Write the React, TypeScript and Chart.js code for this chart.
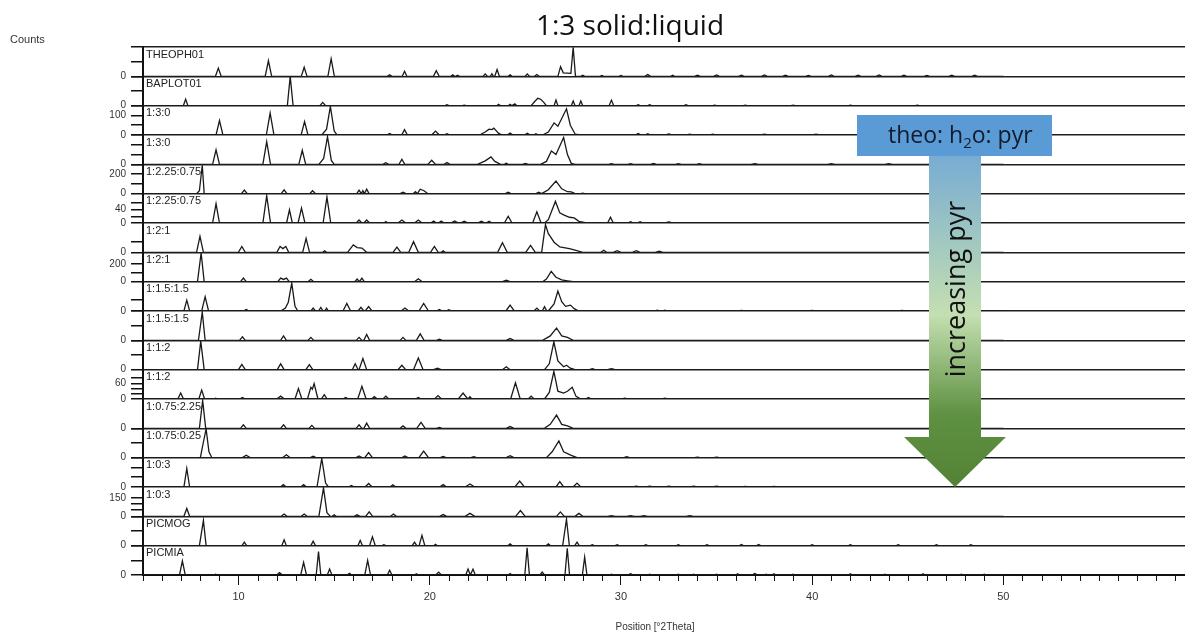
import React, { useEffect, useRef } from 'react';
import { Chart, registerables } from 'chart.js';

Chart.register(...registerables);

// ---------- axis values ----------
const X_MIN = 5;
const X_MAX = 59.5;
const DATA_END = 50;
const X_MAJOR_STEP = 10;

const panelNames = [
  'THEOPH01', 'BAPLOT01', '1:3:0', '1:3:0', '1:2.25:0.75', '1:2.25:0.75', '1:2:1', '1:2:1',
  '1:1.5:1.5', '1:1.5:1.5', '1:1:2', '1:1:2', '1:0.75:2.25', '1:0.75:0.25', '1:0:3', '1:0:3',
  'PICMOG', 'PICMIA',
];
const panelMax = [100, 100, 150, 150, 300, 87, 55, 330, 250, 100, 100, 113, 297, 100, 150, 237, 100, 100];
const panelStep = [50, 50, 50, 50, 100, 20, 20, 100, 100, 50, 50, 20, 100, 50, 50, 50, 50, 50];
const panelTickLabels = [
  [0], [0], [0, 100], [0], [0, 200], [0, 40], [0, 40], [0, 200],
  [0], [0], [0], [0, 60], [0, 200], [0], [0], [0, 150], [0], [0],
];

// ---------- series values: peaks [2theta, counts, half-width] or explicit profiles [[2theta, counts], ...] ----------
type Entry = number[] | number[][];

const theoph01: Entry[] = [
  [8.94, 28, 0.15], [11.56, 53, 0.17], [13.43, 31, 0.15], [14.84, 60, 0.17], [17.9, 5, 0.12], [18.68, 17, 0.12],
  [20.34, 19, 0.15], [21.2, 5, 0.1], [21.45, 4, 0.1], [22.9, 8, 0.12], [23.25, 9, 0.08], [23.52, 23, 0.12], [24.2, 5, 0.1],
  [25.1, 8, 0.12], [25.6, 6, 0.12],
  [[26.7, 0], [26.84, 33], [26.98, 12], [27.38, 10], [27.5, 99], [27.62, 0]],
  [28.0, 4, 0.1], [29.0, 3, 0.1], [30.0, 3, 0.1], [31.4, 6, 0.15], [32.7, 4, 0.1], [34.0, 4, 0.15], [35.0, 5, 0.15],
  [36.3, 4, 0.15], [37.5, 5, 0.15], [38.6, 4, 0.15], [39.8, 3, 0.15], [41.0, 5, 0.15], [42.4, 4, 0.15], [43.5, 5, 0.15],
  [44.8, 4, 0.15], [46.0, 3, 0.15], [47.3, 4, 0.15], [48.5, 4, 0.15],
];

const baplot01: Entry[] = [
  [7.23, 22, 0.12], [12.7, 100, 0.15], [14.4, 11, 0.15], [20.9, 3, 0.1], [21.8, 2, 0.1], [23.6, 5, 0.1], [24.2, 5, 0.1],
  [24.45, 6, 0.1],
  [[25.3, 0], [25.5, 15], [25.65, 25], [25.8, 22], [25.95, 12], [26.1, 0]],
  [26.6, 19, 0.1], [27.5, 16, 0.1], [27.9, 16, 0.1], [29.5, 19, 0.12], [30.9, 3, 0.1], [31.5, 3, 0.1], [33.4, 3, 0.1],
  [34.9, 2, 0.1], [36.5, 2, 0.1], [39.0, 2, 0.1], [42.0, 2, 0.1], [45.5, 2, 0.1],
];

const r130a: Entry[] = [
  [9.0, 74, 0.18], [11.65, 112, 0.2], [13.45, 68, 0.18],
  [[14.35, 0], [14.6, 30], [14.8, 146], [15.0, 20], [15.15, 0]],
  [17.9, 8, 0.15], [18.68, 27, 0.15], [20.3, 20, 0.2], [20.9, 6, 0.15],
  [[22.6, 0], [22.9, 15], [23.1, 30], [23.25, 28], [23.35, 35], [23.6, 8], [23.8, 0]],
  [24.2, 10, 0.15], [25.1, 9, 0.15], [25.55, 6, 0.12],
  [[25.9, 0], [26.2, 15], [26.5, 62], [26.7, 45], [27.15, 134], [27.35, 50], [27.6, 5], [27.9, 0]],
  [30.9, 8, 0.15], [31.4, 6, 0.15], [32.5, 6, 0.2], [33.6, 4, 0.15], [34.8, 4, 0.15], [37.5, 4, 0.2], [40.2, 4, 0.2],
  [42.5, 3, 0.2], [45.5, 3, 0.2], [48.0, 3, 0.2],
];

const r130b: Entry[] = [
  [8.82, 74, 0.18], [11.47, 116, 0.2], [13.33, 72, 0.18],
  [[14.2, 0], [14.45, 30], [14.65, 141], [14.85, 20], [15.0, 0]],
  [17.7, 8, 0.15], [18.54, 26, 0.15], [20.1, 21, 0.2], [20.9, 9, 0.15],
  [[22.5, 0], [22.9, 18], [23.2, 38], [23.4, 15], [23.7, 0]],
  [24.0, 6, 0.1], [25.0, 5, 0.15],
  [[25.8, 0], [26.1, 15], [26.36, 68], [26.6, 50], [27.0, 137], [27.2, 50], [27.4, 5], [27.6, 0]],
  [29.5, 4, 0.15], [30.5, 4, 0.15], [31.7, 5, 0.15], [33.0, 4, 0.15], [34.1, 4, 0.15], [37.0, 3, 0.2], [41.0, 3, 0.2],
  [44.0, 3, 0.2],
];

const r122575a: Entry[] = [
  [[7.8, 0], [7.95, 30], [8.1, 291], [8.2, 0]],
  [10.3, 36, 0.15], [12.38, 39, 0.15], [13.87, 30, 0.15], [16.3, 36, 0.12], [16.5, 30, 0.08], [16.7, 45, 0.12],
  [18.6, 15, 0.15], [19.25, 20, 0.12],
  [[19.35, 0], [19.5, 45], [19.7, 30], [19.9, 0]],
  [24.1, 15, 0.15], [25.7, 15, 0.15],
  [[25.85, 0], [26.2, 40], [26.6, 129], [26.9, 50], [27.2, 20], [27.4, 18], [27.6, 0]],
  [28.0, 6, 0.1],
];

const r122575b: Entry[] = [
  [8.82, 57, 0.18], [11.47, 81, 0.2], [12.66, 39, 0.15], [13.29, 44, 0.18], [14.62, 77, 0.2], [16.3, 9, 0.15],
  [16.7, 9, 0.15], [17.7, 4, 0.1], [18.54, 9, 0.2], [19.4, 9, 0.2], [20.2, 6, 0.15], [20.6, 6, 0.15], [21.3, 6, 0.2],
  [21.8, 5, 0.2], [22.7, 5, 0.2], [23.1, 5, 0.15], [24.1, 20, 0.2], [25.6, 33, 0.22],
  [[26.0, 0], [26.2, 10], [26.57, 64], [26.8, 30], [27.0, 24], [27.3, 17], [27.55, 15], [27.8, 5], [28.2, 0]],
  [29.45, 17, 0.15], [30.5, 4, 0.15], [31.0, 4, 0.15], [32.5, 3, 0.2],
];

const r121a: Entry[] = [
  [7.98, 30, 0.18], [10.17, 11, 0.18],
  [[12.0, 0], [12.17, 11], [12.32, 7], [12.47, 11], [12.62, 0]],
  [13.53, 26, 0.18], [14.5, 3, 0.1],
  [[15.7, 0], [16.0, 14], [16.2, 9], [16.45, 8], [16.7, 0]],
  [18.28, 10, 0.2], [19.15, 20, 0.25], [20.24, 11, 0.2], [20.7, 3, 0.1], [23.8, 18, 0.25], [25.27, 13, 0.25],
  [[25.85, 0], [26.05, 52], [26.2, 35], [26.3, 30], [26.5, 19], [26.8, 10], [27.3, 7], [27.6, 4], [28.0, 0]],
  [29.1, 4, 0.15], [29.8, 3, 0.2], [30.8, 3, 0.2], [32.0, 2, 0.2],
];

const r121b: Entry[] = [
  [[7.85, 0], [8.04, 323], [8.2, 0]],
  [10.25, 40, 0.15],
  [[12.05, 0], [12.2, 40], [12.35, 25], [12.5, 40], [12.65, 0]],
  [13.78, 26, 0.15], [16.2, 30, 0.12], [16.45, 40, 0.12], [19.4, 33, 0.2], [24.0, 16, 0.2],
  [[25.9, 0], [26.1, 30], [26.35, 115], [26.6, 50], [26.9, 20], [27.2, 10], [27.5, 0]],
];

const r11515a: Entry[] = [
  [7.29, 92, 0.15], [8.25, 122, 0.18], [10.4, 12, 0.15],
  [[12.2, 0], [12.45, 25], [12.6, 75], [12.78, 237], [12.95, 40], [13.1, 0]],
  [13.9, 25, 0.12], [14.3, 30, 0.12], [14.6, 25, 0.1], [15.66, 65, 0.2], [16.4, 32, 0.15], [16.8, 37, 0.18],
  [18.7, 25, 0.2], [19.68, 65, 0.25], [20.5, 12, 0.15], [21.0, 10, 0.15], [24.2, 50, 0.22], [25.6, 25, 0.15],
  [26.0, 37, 0.12],
  [[26.2, 0], [26.5, 60], [26.7, 170], [26.9, 80], [27.1, 40], [27.36, 50], [27.55, 20], [27.8, 0]],
  [31.9, 8, 0.15], [32.3, 8, 0.15], [36.3, 5, 0.2], [40.0, 5, 0.2], [44.7, 5, 0.2],
];

const r11515b: Entry[] = [
  [[7.9, 0], [8.1, 96], [8.25, 0]],
  [10.2, 12, 0.15], [12.35, 15, 0.15], [13.78, 10, 0.15], [16.3, 10, 0.15], [16.7, 20, 0.15], [18.6, 10, 0.15],
  [19.5, 22, 0.2], [20.5, 4, 0.15], [24.2, 6, 0.2],
  [[25.9, 0], [26.3, 15], [26.63, 42], [26.9, 15], [27.2, 10], [27.5, 0]],
];

const r112a: Entry[] = [
  [[7.85, 0], [8.02, 97], [8.2, 0]],
  [10.17, 18, 0.18], [12.2, 20, 0.18], [13.7, 17, 0.18], [16.1, 20, 0.15], [16.5, 38, 0.2], [18.54, 15, 0.2],
  [19.4, 40, 0.25], [20.4, 5, 0.2], [24.0, 10, 0.2],
  [[26.0, 0], [26.25, 20], [26.49, 95], [26.7, 30], [27.0, 10], [27.15, 15], [27.35, 5], [27.6, 0]],
  [28.5, 3, 0.15], [29.5, 3, 0.2],
];

const r112b: Entry[] = [
  [6.97, 23, 0.15], [8.07, 34, 0.15], [8.8, 3, 0.1], [10.2, 6, 0.15], [12.2, 11, 0.2], [13.13, 40, 0.18],
  [[13.6, 0], [13.78, 45], [13.86, 38], [13.95, 59], [14.15, 0]],
  [14.48, 17, 0.15], [15.6, 6, 0.15], [16.45, 49, 0.22], [17.1, 9, 0.15], [17.7, 11, 0.15], [19.4, 6, 0.15],
  [20.43, 13, 0.18], [21.74, 23, 0.25], [22.1, 9, 0.1], [24.48, 62, 0.25], [25.3, 11, 0.15],
  [[26.0, 0], [26.25, 25], [26.49, 106], [26.7, 30], [27.0, 23], [27.2, 30], [27.45, 45], [27.65, 10], [27.9, 0]],
  [28.3, 6, 0.15], [30.2, 3, 0.15], [32.3, 3, 0.15],
];

const r1075225: Entry[] = [
  [[7.95, 0], [8.12, 282], [8.28, 0]],
  [10.25, 36, 0.15], [12.35, 36, 0.15], [13.83, 30, 0.15], [16.3, 36, 0.15], [16.7, 53, 0.15], [18.6, 24, 0.15],
  [19.54, 60, 0.22], [20.5, 10, 0.15], [24.2, 18, 0.2],
  [[26.0, 0], [26.3, 40], [26.63, 134], [26.9, 40], [27.2, 25], [27.5, 0]],
];

const r1075025: Entry[] = [
  [[8.0, 0], [8.15, 50], [8.3, 98], [8.45, 20], [8.6, 0]],
  [10.4, 8, 0.2], [12.5, 10, 0.2], [13.9, 5, 0.15], [16.3, 6, 0.15], [16.8, 17, 0.2], [18.7, 6, 0.15],
  [19.68, 22, 0.25], [20.7, 4, 0.15], [22.3, 3, 0.15], [24.2, 7, 0.2],
  [[26.1, 0], [26.4, 20], [26.75, 57], [27.0, 20], [27.4, 8], [27.7, 0]],
  [30.3, 3, 0.15], [34.0, 2, 0.15], [35.0, 2, 0.15],
];

const r103a: Entry[] = [
  [7.29, 95, 0.15], [12.34, 12, 0.15], [13.4, 12, 0.15],
  [[14.1, 0], [14.35, 146], [14.55, 20], [14.7, 0]],
  [15.9, 8, 0.15], [16.8, 18, 0.18], [18.07, 11, 0.15], [20.7, 12, 0.18], [22.1, 15, 0.25], [24.7, 30, 0.25],
  [26.8, 27, 0.2], [27.7, 20, 0.2], [30.8, 4, 0.2], [31.5, 4, 0.2], [32.5, 4, 0.2], [33.8, 4, 0.2], [35.0, 4, 0.2],
  [36.5, 3, 0.2], [38.0, 3, 0.2],
];

const r103b: Entry[] = [
  [7.29, 64, 0.15], [12.38, 19, 0.15], [13.43, 19, 0.15],
  [[14.2, 0], [14.44, 230], [14.62, 30], [14.8, 0]],
  [15.0, 12, 0.1], [16.2, 12, 0.15], [16.83, 36, 0.18], [18.1, 19, 0.15], [20.7, 14, 0.18], [22.1, 24, 0.25],
  [24.74, 47, 0.25], [26.83, 36, 0.2], [27.8, 24, 0.2], [29.5, 5, 0.2], [30.5, 5, 0.2], [31.2, 5, 0.2], [33.6, 5, 0.2],
];

const picmog: Entry[] = [
  [[7.95, 0], [8.16, 86], [8.3, 0]],
  [10.3, 12, 0.12], [12.38, 20, 0.12], [13.9, 15, 0.12], [16.36, 18, 0.12], [17.0, 30, 0.15], [17.6, 3, 0.1],
  [19.2, 12, 0.12], [19.59, 35, 0.15], [20.3, 5, 0.1], [24.2, 6, 0.12], [26.2, 6, 0.12],
  [[26.95, 0], [27.15, 90], [27.3, 0]],
  [27.7, 12, 0.12], [28.5, 3, 0.1], [29.8, 3, 0.1], [31.3, 3, 0.1], [33.0, 3, 0.1], [34.5, 3, 0.1], [36.3, 4, 0.1],
  [37.2, 4, 0.1], [40.0, 3, 0.1], [42.0, 3, 0.1], [44.5, 3, 0.1], [46.5, 3, 0.1], [48.3, 3, 0.1],
];

const picmia: Entry[] = [
  [7.06, 48, 0.15], [8.8, 3, 0.1], [12.14, 8, 0.15], [13.4, 43, 0.15], [14.18, 80, 0.12], [14.76, 20, 0.12],
  [15.8, 6, 0.12], [16.75, 50, 0.15], [17.9, 16, 0.12], [19.3, 4, 0.1], [20.46, 10, 0.15], [22.0, 20, 0.12],
  [22.26, 20, 0.12], [24.2, 5, 0.1], [25.09, 93, 0.12], [25.88, 10, 0.12], [27.19, 91, 0.12], [28.1, 61, 0.12],
  [29.5, 3, 0.1], [30.5, 4, 0.15], [31.5, 3, 0.1], [33.0, 3, 0.1], [33.8, 3, 0.1], [35.0, 3, 0.1], [36.1, 4, 0.1],
  [37.0, 5, 0.15], [37.6, 3, 0.1], [38.0, 4, 0.1], [39.0, 3, 0.1], [42.0, 4, 0.1], [43.8, 3, 0.1], [45.8, 4, 0.1],
  [47.8, 3, 0.1], [49.0, 3, 0.1],
];

const panelSeries: Entry[][] = [
  theoph01, baplot01, r130a, r130b, r122575a, r122575b, r121a, r121b,
  r11515a, r11515b, r112a, r112b, r1075225, r1075025, r103a, r103b, picmog, picmia,
];

// ---------- helpers ----------
function toPoints(entries: Entry[]) {
  const pts: { x: number; y: number }[] = [];
  for (const e of entries) {
    if (Array.isArray(e[0])) {
      for (const p of e as number[][]) pts.push({ x: p[0], y: p[1] });
    } else {
      const [p, h, w] = e as number[];
      pts.push({ x: p - w, y: 0 }, { x: p, y: h }, { x: p + w, y: 0 });
    }
  }
  pts.sort((a, b) => a.x - b.x);
  return [{ x: X_MIN, y: 0 }, ...pts, { x: DATA_END, y: 0 }];
}

const FONT = '"Liberation Sans", Arial, sans-serif';
const LAYOUT = { left: 143, top: 47, bottom: 575 };

const decorPlugin = {
  id: 'decor',
  afterDatasetsDraw(chart: any) {
    const ctx = chart.ctx as CanvasRenderingContext2D;
    const area = chart.chartArea;
    ctx.save();
    // panel names
    ctx.fillStyle = '#222';
    ctx.font = `11px ${FONT}`;
    ctx.textAlign = 'left';
    ctx.textBaseline = 'top';
    panelNames.forEach((name, i) => {
      const sc = chart.scales['y' + i];
      ctx.fillText(name, area.left + 3, sc.top + 2);
    });
    // minor x ticks
    const xs = chart.scales.x;
    ctx.strokeStyle = '#111';
    ctx.lineWidth = 1;
    for (let d = Math.ceil(X_MIN); d <= X_MAX; d++) {
      if (d % X_MAJOR_STEP === 0) continue;
      const px = Math.round(xs.getPixelForValue(d)) + 0.5;
      ctx.beginPath();
      ctx.moveTo(px, area.bottom);
      ctx.lineTo(px, area.bottom + 6);
      ctx.stroke();
    }
    // arrow annotation
    const g = ctx.createLinearGradient(0, 156, 0, 487);
    g.addColorStop(0, '#78acd3');
    g.addColorStop(0.48, '#c4dfb1');
    g.addColorStop(0.78, '#5f9142');
    g.addColorStop(1, '#548235');
    ctx.fillStyle = g;
    ctx.beginPath();
    ctx.moveTo(929, 155);
    ctx.lineTo(981, 155);
    ctx.lineTo(981, 437);
    ctx.lineTo(1006, 437);
    ctx.lineTo(955, 487);
    ctx.lineTo(904, 437);
    ctx.lineTo(929, 437);
    ctx.closePath();
    ctx.fill();
    ctx.fillStyle = '#5b9bd5';
    ctx.fillRect(857, 115, 195, 41);
    // box text with subscript
    ctx.fillStyle = '#141b2d';
    ctx.textBaseline = 'alphabetic';
    ctx.font = '23px "Open Sans", sans-serif';
    let tx = 888;
    const ty = 143;
    const t1 = 'theo: h';
    ctx.fillText(t1, tx, ty);
    tx += ctx.measureText(t1).width;
    ctx.font = '15px "Open Sans", sans-serif';
    ctx.fillText('2', tx, ty + 5);
    tx += ctx.measureText('2').width;
    ctx.font = '23px "Open Sans", sans-serif';
    ctx.fillText('o: pyr', tx, ty);
    // rotated arrow text
    ctx.save();
    ctx.translate(957, 289);
    ctx.rotate(-Math.PI / 2);
    ctx.font = '27px "Open Sans", sans-serif';
    ctx.textAlign = 'center';
    ctx.textBaseline = 'middle';
    ctx.fillStyle = '#111';
    ctx.fillText('increasing pyr', 0, 0);
    ctx.restore();
    // title and axis texts
    ctx.fillStyle = '#111';
    ctx.textAlign = 'center';
    ctx.textBaseline = 'middle';
    ctx.font = '28px "Open Sans", sans-serif';
    ctx.fillText('1:3 solid:liquid', 630, 27);
    ctx.fillStyle = '#333';
    ctx.font = `10px ${FONT}`;
    ctx.fillText('Position [°2Theta]', 655, 627);
    ctx.textAlign = 'left';
    ctx.font = `11px ${FONT}`;
    ctx.fillText('Counts', 10, 40);
    ctx.restore();
  },
};

export default function App() {
  const ref = useRef<HTMLCanvasElement | null>(null);

  useEffect(() => {
    if (!ref.current) return;
    const n = panelNames.length;
    const scales: any = {
      x: {
        type: 'linear',
        position: 'bottom',
        min: X_MIN,
        max: X_MAX,
        afterBuildTicks: (s: any) => {
          s.ticks = s.ticks.filter((t: any) => t.value % X_MAJOR_STEP === 0);
        },
        afterFit: (s: any) => {
          s.height = 632 - LAYOUT.bottom;
        },
        ticks: {
          stepSize: X_MAJOR_STEP,
          autoSkip: false,
          maxRotation: 0,
          padding: 5,
          color: '#333',
          font: { family: FONT, size: 11 },
        },
        grid: { drawOnChartArea: false, tickLength: 10, tickColor: '#111', lineWidth: 1 },
        border: { display: true, color: '#111', width: 2 },
      },
    };
    for (let i = 0; i < n; i++) {
      const max = panelMax[i];
      const step = panelStep[i];
      const labels = panelTickLabels[i];
      scales['y' + i] = {
        type: 'linear',
        position: 'left',
        stack: 'panels',
        stackWeight: 1,
        weight: n - i,
        min: 0,
        max,
        afterBuildTicks: (s: any) => {
          s.ticks = s.ticks.filter((t: any) => Math.abs(t.value / step - Math.round(t.value / step)) < 1e-6);
        },
        afterFit: (s: any) => {
          s.width = LAYOUT.left;
        },
        ticks: {
          stepSize: step,
          autoSkip: false,
          padding: 5,
          color: '#333',
          font: { family: FONT, size: 10 },
          callback: (v: any) => (labels.includes(Number(v)) ? String(v) : ''),
        },
        grid: {
          drawOnChartArea: true,
          tickLength: 12,
          tickColor: '#111',
          lineWidth: 1.5,
          color: (c: any) => {
            const v = c.tick ? c.tick.value : null;
            if (v === 0) return '#1e1e1e';
            if (i === 0 && v === max) return '#1e1e1e';
            return 'rgba(0,0,0,0)';
          },
        },
        border: { display: true, color: '#111', width: 2 },
      };
    }

    const chart = new Chart(ref.current, {
      type: 'line',
      data: {
        datasets: panelSeries.map((s, i) => ({
          label: panelNames[i],
          data: toPoints(s),
          yAxisID: 'y' + i,
          xAxisID: 'x',
          borderColor: '#1a1a1a',
          borderWidth: 1.3,
          pointRadius: 0,
          tension: 0,
          fill: false,
        })),
      },
      options: {
        responsive: false,
        animation: false,
        parsing: true,
        layout: { padding: { top: LAYOUT.top, left: 0, right: 0, bottom: 0 } },
        plugins: { legend: { display: false }, tooltip: { enabled: false }, title: { display: false } },
        scales,
      },
      plugins: [decorPlugin],
    });
    return () => chart.destroy();
  }, []);

  return (
    <div style={{ position: 'absolute', left: 0, top: 0, width: 1185, height: 632, background: '#fff' }}>
      <canvas ref={ref} width={1185} height={632} />
    </div>
  );
}
